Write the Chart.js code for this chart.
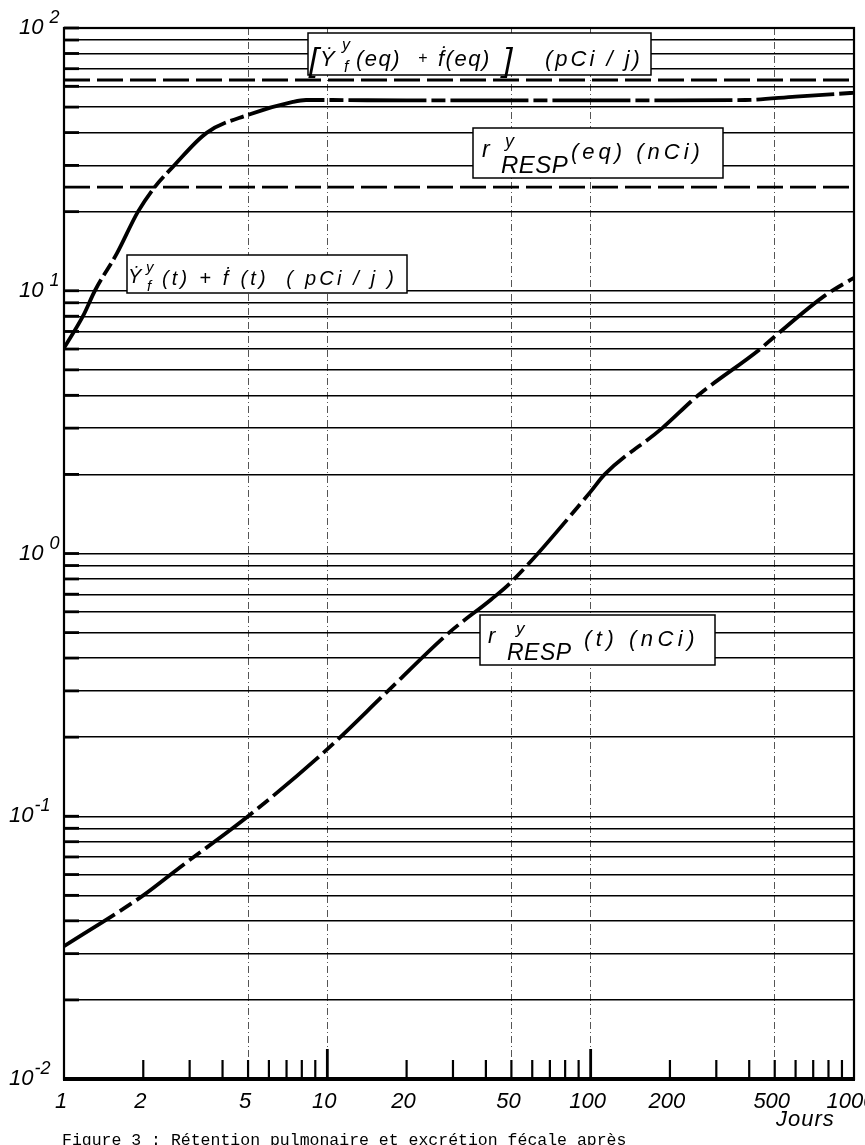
<!DOCTYPE html>
<html>
<head>
<meta charset="utf-8">
<script src="https://cdn.jsdelivr.net/npm/chart.js@4"></script>
<style>
  html, body { margin: 0; padding: 0; background: #fff; }
  #wrap { width: 865px; height: 1145px; position: relative; }
</style>
</head>
<body>
<div id="wrap"><canvas id="graf"></canvas></div>
<script>
// Ydot(t) + fdot(t)  (pCi/j)
const joursYf   = [1, 1.18, 1.31, 1.59, 1.91, 2.21, 2.59, 3.48, 5, 7.4, 8.3, 10, 20, 50, 100, 200, 386, 600, 1000];
const valeursYf = [6.05, 8.0, 10, 13.9, 20, 24.8, 29.6, 39.9, 46.7, 52.3, 53.2, 53.2, 53, 53, 53, 53, 53.2, 54.8, 56.7];

// r RESP(t)  (nCi)
const joursR   = [1, 2, 2.76, 5, 10, 17, 29, 42, 50, 100, 113, 187, 256, 440, 500, 777, 1000];
const valeursR = [0.032, 0.05, 0.064, 0.10, 0.18, 0.30, 0.50, 0.67, 0.78, 1.72, 2.0, 3.0, 4.0, 6.0, 6.7, 9.6, 11.2];

// niveaux d'equilibre
const niveauYfEq = 63.4;
const niveauREq = 24.8;

const etiquettesX = [1, 2, 5, 10, 20, 50, 100, 200, 500, 1000];
const grilleX = [5, 10, 50, 100, 500];
const graduationsX = [2, 3, 4, 5, 6, 7, 8, 9, 10, 20, 30, 40, 50, 60, 70, 80, 90, 100,
                      200, 300, 400, 500, 600, 700, 800, 900];
const decadesY = [2, 1, 0, -1, -2];
const grilleY = [];
[-2, -1, 0, 1].forEach(e => {
  for (let m = 1; m <= 9; m++) grilleY.push(+(m * Math.pow(10, e)).toPrecision(2));
});
grilleY.push(100);

const FONT = '"Liberation Sans", "DejaVu Sans", sans-serif';

function txt(ctx, t, x, y, size, spacing) {
  ctx.font = 'italic ' + size + 'px ' + FONT;
  ctx.letterSpacing = (spacing || 0) + 'px';
  ctx.fillText(t, x, y);
  return ctx.measureText(t).width;
}

function boite(ctx, x1, y1, x2, y2) {
  ctx.fillStyle = '#fff';
  ctx.fillRect(x1, y1, x2 - x1, y2 - y1);
  ctx.lineWidth = 1.5;
  ctx.strokeStyle = '#000';
  ctx.strokeRect(x1, y1, x2 - x1, y2 - y1);
  ctx.fillStyle = '#000';
}

function trait(ctx, x1, y1, x2, y2) {
  ctx.beginPath();
  ctx.moveTo(x1, y1);
  ctx.lineTo(x2, y2);
  ctx.stroke();
}

const habillage = {
  id: 'habillage',
  afterDraw(chart) {
    const { ctx, chartArea: a, scales: { x, y } } = chart;
    ctx.save();
    ctx.strokeStyle = '#000';
    ctx.setLineDash([]);

    // bouts epais des lignes horizontales
    ctx.lineWidth = 2.8;
    grilleY.forEach(v => {
      const py = y.getPixelForValue(v);
      trait(ctx, a.left, py, a.left + 15, py);
    });

    // cadre
    ctx.lineWidth = 2.2;
    ctx.strokeRect(a.left, a.top, a.right - a.left, a.bottom - a.top);
    ctx.lineWidth = 4;
    trait(ctx, a.left - 1, a.bottom, a.right + 1, a.bottom);

    // graduations du bas
    graduationsX.forEach(v => {
      const px = x.getPixelForValue(v);
      const big = (v === 10 || v === 100);
      ctx.lineWidth = big ? 2.8 : 2.2;
      trait(ctx, px, a.bottom, px, a.bottom - (big ? 30 : 19));
    });

    ctx.fillStyle = '#000';
    ctx.textBaseline = 'alphabetic';
    ctx.textAlign = 'left';

    // boite 1 : [Ydot y f (eq) + fdot(eq)] (pCi/j)
    boite(ctx, 308, 33, 651, 75);
    txt(ctx, '[', 309, 71, 34);
    txt(ctx, 'Ẏ', 320, 66, 22);
    txt(ctx, 'y', 342, 50, 16);
    txt(ctx, 'f', 344, 72, 16);
    txt(ctx, '(eq)', 356, 66, 22, 1.5);
    txt(ctx, '+', 418, 63, 16);
    txt(ctx, 'ḟ(eq)', 438, 66, 22, 1.5);
    txt(ctx, ']', 503, 71, 34);
    txt(ctx, '(pCi / j)', 545, 66, 22, 3);

    // boite 2 : r y RESP (eq) (nCi)
    boite(ctx, 473, 128, 723, 178);
    txt(ctx, 'r', 482, 157, 23);
    txt(ctx, 'y', 505, 147, 18);
    txt(ctx, 'RESP', 501, 173, 24, 0.5);
    txt(ctx, '(eq) (nCi)', 571, 159, 22, 4);

    // boite 3 : Ydot y f (t) + fdot(t) (pCi/j)
    boite(ctx, 127, 255, 407, 293);
    txt(ctx, 'Ẏ', 128, 283, 20);
    txt(ctx, 'y', 146, 272, 15);
    txt(ctx, 'f', 147, 291, 15);
    txt(ctx, '(t) + ḟ (t)  ( pCi / j )', 162, 285, 20, 3.2);

    // boite 4 : r y RESP (t) (nCi)
    boite(ctx, 480, 615, 715, 665);
    txt(ctx, 'r', 488, 643, 22);
    txt(ctx, 'y', 516, 634, 17);
    txt(ctx, 'RESP', 507, 660, 23, 0.5);
    txt(ctx, '(t) (nCi)', 584, 646, 22, 4.5);

    // etiquettes Y
    decadesY.forEach(e => {
      const py = y.getPixelForValue(Math.pow(10, e));
      const x0 = e < 0 ? 9 : 19;
      const w = txt(ctx, '10', x0, py + 6, 22, 0);
      txt(ctx, e < 0 ? '-' + (-e) : String(e), x0 + w + (e < 0 ? 1 : 6), py - 5, 18, 0);
    });

    // etiquettes X
    ctx.textAlign = 'center';
    etiquettesX.forEach(v => {
      txt(ctx, String(v), x.getPixelForValue(v) - 3, 1108, 22, 0);
    });
    ctx.textAlign = 'left';
    txt(ctx, 'Jours', 776, 1126, 22, 1);

    // legende de la figure
    ctx.font = '16.5px "Liberation Mono", "DejaVu Sans Mono", monospace';
    ctx.letterSpacing = '0px';
    ctx.fillText('Figure 3 : Rétention pulmonaire et excrétion fécale après', 62, 1145);

    ctx.restore();
  }
};

const pts = (xs, ys) => xs.map((v, i) => ({ x: v, y: ys[i] }));

new Chart(document.getElementById('graf'), {
  type: 'line',
  data: {
    datasets: [
      {
        label: 'Yf(t) + f(t)',
        data: pts(joursYf, valeursYf),
        borderColor: '#000', borderWidth: 3.8, borderDash: [78, 5, 14, 5],
        pointRadius: 0, cubicInterpolationMode: 'monotone', fill: false
      },
      {
        label: 'r RESP(t)',
        data: pts(joursR, valeursR),
        borderColor: '#000', borderWidth: 3.8, borderDash: [60, 6, 14, 6],
        pointRadius: 0, cubicInterpolationMode: 'monotone', fill: false
      },
      {
        label: 'Yf(eq) + f(eq)',
        data: pts([1, 1000], [niveauYfEq, niveauYfEq]),
        borderColor: '#000', borderWidth: 2.8, borderDash: [26, 7],
        pointRadius: 0, fill: false
      },
      {
        label: 'r RESP(eq)',
        data: pts([1, 1000], [niveauREq, niveauREq]),
        borderColor: '#000', borderWidth: 2.8, borderDash: [26, 7],
        pointRadius: 0, fill: false
      }
    ]
  },
  options: {
    responsive: true,
    maintainAspectRatio: false,
    animation: false,
    layout: { padding: { left: 64, right: 11, top: 28, bottom: 66 } },
    plugins: { legend: { display: false }, tooltip: { enabled: false } },
    scales: {
      x: {
        type: 'logarithmic', min: 1, max: 1000,
        afterBuildTicks: s => { s.ticks = grilleX.map(v => ({ value: v })); },
        ticks: { display: false },
        grid: { color: '#555', lineWidth: 1, drawTicks: false },
        border: { display: false, dash: [7, 3, 1, 3] }
      },
      y: {
        type: 'logarithmic', min: 0.01, max: 100,
        afterBuildTicks: s => { s.ticks = grilleY.map(v => ({ value: v })); },
        ticks: { display: false },
        grid: { color: '#000', lineWidth: 1.4, drawTicks: false },
        border: { display: false }
      }
    }
  },
  plugins: [habillage]
});
</script>
</body>
</html>
